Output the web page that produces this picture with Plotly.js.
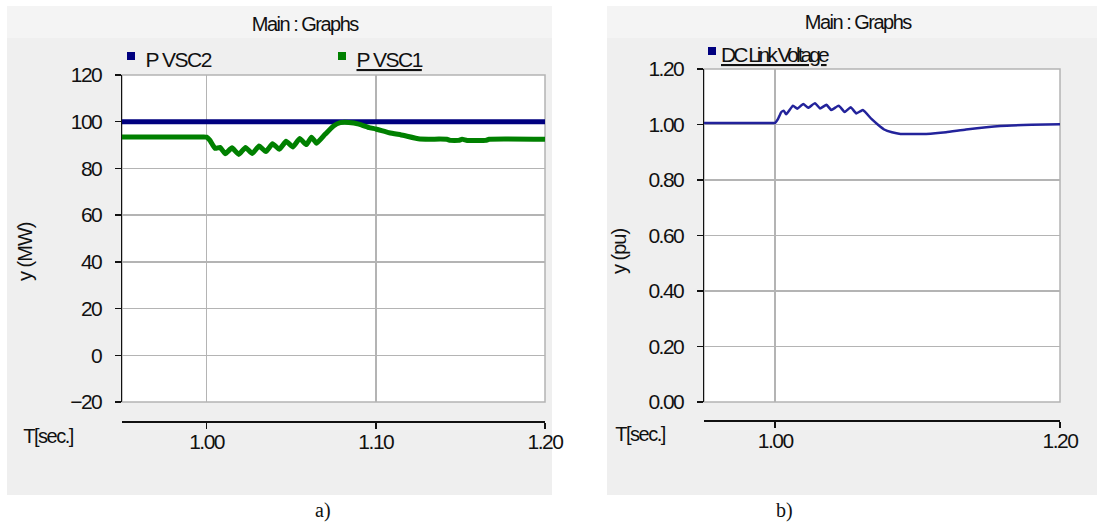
<!DOCTYPE html>
<html>
<head>
<meta charset="utf-8">
<script src="https://cdn.plot.ly/plotly-3.0.1.min.js"></script>
<style>
html,body{margin:0;padding:0;background:#fff;}
#chart text{letter-spacing:-1.5px;}
</style>
</head>
<body>
<div id="chart" style="width:1101px;height:524px;"></div>
<script>
// ---- Data ----
const tVSC2 = [0.95, 1.20];
const pVSC2 = [100, 100];

const tVSC1 = [0.95, 0.998, 1.000, 1.002, 1.005, 1.008, 1.011, 1.015, 1.019, 1.023, 1.027, 1.031, 1.035,
  1.039, 1.043, 1.047, 1.051, 1.055, 1.059, 1.062, 1.065, 1.070, 1.075, 1.079, 1.084, 1.090,
  1.096, 1.100, 1.108, 1.116, 1.126, 1.142, 1.144, 1.149, 1.151, 1.154, 1.165, 1.167, 1.20];
const pVSC1 = [93.5, 93.5, 93.4, 92.0, 88.6, 89.0, 86.3, 88.8, 86.0, 89.0, 86.4, 89.6, 87.2,
  90.6, 88.2, 91.6, 89.2, 92.8, 90.2, 93.4, 90.8, 94.6, 98.2, 99.6, 99.7, 99.0,
  97.5, 96.9, 95.3, 94.2, 92.6, 92.5, 92.0, 92.0, 92.5, 92.0, 92.0, 92.5, 92.5];

const tDC = [0.95, 0.998, 1.000, 1.002, 1.0042, 1.006, 1.0077, 1.0125, 1.0155, 1.0197, 1.0232, 1.0279,
  1.0315, 1.036, 1.0394, 1.0446, 1.0488, 1.053, 1.057, 1.0615, 1.0676, 1.072, 1.0765, 1.082,
  1.088, 1.106, 1.120, 1.134, 1.158, 1.180, 1.20];
const vDC = [1.005, 1.005, 1.006, 1.020, 1.044, 1.050, 1.037, 1.068, 1.057, 1.074, 1.060, 1.077,
  1.058, 1.071, 1.052, 1.068, 1.045, 1.062, 1.040, 1.052, 1.020, 1.000, 0.982, 0.972,
  0.966, 0.966, 0.972, 0.982, 0.995, 0.999, 1.001];

const leftYTicks = [-20, 0, 20, 40, 60, 80, 100, 120];
const leftXTicks = [1.00, 1.10, 1.20];
const leftXTickText = ['1.00', '1.10', '1.20'];
const rightYTicks = [0, 0.2, 0.4, 0.6, 0.8, 1.0, 1.2];
const rightYTickText = ['0.00', '0.20', '0.40', '0.60', '0.80', '1.00', '1.20'];
const rightXTicks = [1.00, 1.20];
const rightXTickText = ['1.00', '1.20'];

// ---- Layout helpers ----
const W = 1101, H = 524;
const px = x => x / W;
const py = y => 1 - y / H;
const FONT = 'Liberation Sans, Arial, sans-serif';
const SERIF = 'Liberation Serif, Times New Roman, serif';
const GRID = '#b4b4b4';
const NAVY = '#00007f';
const GREEN = '#008000';
const DCBLUE = '#23239b';

const traces = [
  {x: tVSC2, y: pVSC2, xaxis: 'x', yaxis: 'y', mode: 'lines', name: 'P VSC2',
   line: {color: NAVY, width: 5}},
  {x: tVSC1, y: pVSC1, xaxis: 'x', yaxis: 'y', mode: 'lines', name: 'P VSC1',
   line: {color: GREEN, width: 5, shape: 'spline', smoothing: 0.4}},
  {x: tDC, y: vDC, xaxis: 'x2', yaxis: 'y2', mode: 'lines', name: 'DC Link Voltage',
   line: {color: DCBLUE, width: 2.5, shape: 'spline', smoothing: 0.4}}
];

const tickFont = {family: FONT, size: 21, color: '#111'};

function xAxis(domain, ticks, text, pos) {
  return {domain: domain, range: [0.95, 1.2], anchor: 'free', position: pos,
    tickmode: 'array', tickvals: ticks, ticktext: text, tickfont: tickFont,
    showgrid: true, gridcolor: GRID, gridwidth: 1.5, zeroline: false,
    showline: true, linecolor: '#111', linewidth: 2,
    ticks: 'outside', ticklen: 6, tickwidth: 1.5, tickcolor: '#111',
    ticklabelstandoff: -5, fixedrange: true};
}
function yAxis(domain, range, ticks, text, anchor) {
  const a = {domain: domain, range: range, anchor: anchor,
    tickmode: 'array', tickvals: ticks, tickfont: tickFont,
    showgrid: true, gridcolor: GRID, gridwidth: 1.5, zeroline: false,
    showline: true, linecolor: '#111', linewidth: 1.5,
    ticks: 'outside', ticklen: 6, tickwidth: 1.5, tickcolor: '#111',
    ticklabelstandoff: 9, fixedrange: true};
  if (text) a.ticktext = text;
  return a;
}

const shapes = [
  // panel backgrounds
  {type: 'rect', xref: 'paper', yref: 'paper', x0: px(7), x1: px(552), y0: py(495), y1: py(6),
   fillcolor: '#efefef', line: {width: 0}, layer: 'below'},
  {type: 'rect', xref: 'paper', yref: 'paper', x0: px(607), x1: px(1097), y0: py(495), y1: py(6),
   fillcolor: '#efefef', line: {width: 0}, layer: 'below'},
  {type: 'rect', xref: 'paper', yref: 'paper', x0: px(7), x1: px(552), y0: py(38), y1: py(6),
   fillcolor: '#f4f4f4', line: {width: 0}, layer: 'below'},
  {type: 'rect', xref: 'paper', yref: 'paper', x0: px(607), x1: px(1097), y0: py(38), y1: py(6),
   fillcolor: '#f4f4f4', line: {width: 0}, layer: 'below'},
  // plot areas
  {type: 'rect', xref: 'x domain', yref: 'y domain', x0: 0, x1: 1, y0: 0, y1: 1,
   fillcolor: '#ffffff', line: {color: GRID, width: 1.5}, layer: 'below'},
  {type: 'rect', xref: 'x2 domain', yref: 'y2 domain', x0: 0, x1: 1, y0: 0, y1: 1,
   fillcolor: '#ffffff', line: {color: GRID, width: 1.5}, layer: 'below'},
  // legend squares
  {type: 'rect', xref: 'paper', yref: 'paper', x0: px(127), x1: px(135), y0: py(60), y1: py(52),
   fillcolor: NAVY, line: {width: 0}},
  {type: 'rect', xref: 'paper', yref: 'paper', x0: px(338), x1: px(346), y0: py(60), y1: py(52),
   fillcolor: GREEN, line: {width: 0}},
  {type: 'rect', xref: 'paper', yref: 'paper', x0: px(708), x1: px(716), y0: py(55), y1: py(47),
   fillcolor: NAVY, line: {width: 0}}
];

function ann(text, x, y, opts) {
  return Object.assign({text: text, xref: 'paper', yref: 'paper', x: px(x), y: py(y),
    showarrow: false, xanchor: 'center', yanchor: 'middle',
    font: {family: FONT, size: 20, color: '#111'}}, opts || {});
}

const annotations = [
  ann('Main : Graphs', 305, 24),
  ann('Main : Graphs', 858, 22),
  ann('P VSC2', 139, 59, {xanchor: 'left', font: {family: FONT, size: 21, color: '#111'}}),
  ann('<span style="text-decoration:underline">P VSC1</span>', 350, 59,
      {xanchor: 'left', font: {family: FONT, size: 21, color: '#111'}}),
  ann('<span style="text-decoration:underline;letter-spacing:-3px">DC Link Voltage</span>', 719, 54,
      {xanchor: 'left', font: {family: FONT, size: 21, color: '#111'}}),
  ann('<span style="letter-spacing:-1px">y (MW)</span>', 25, 252, {textangle: -90}),
  ann('<span style="letter-spacing:-1px">y (pu)</span>', 619, 252, {textangle: -90}),
  ann('T[sec.]', 48, 436),
  ann('T[sec.]', 640, 434),
  ann('<span style="letter-spacing:0px">a)</span>', 323, 510, {font: {family: SERIF, size: 20, color: '#111'}}),
  ann('<span style="letter-spacing:0px">b)</span>', 784, 510, {font: {family: SERIF, size: 20, color: '#111'}})
];

const layout = {
  width: W, height: H,
  margin: {l: 0, r: 0, t: 0, b: 0, pad: 0},
  paper_bgcolor: '#ffffff', plot_bgcolor: '#ffffff',
  showlegend: false,
  xaxis: xAxis([px(122), px(545)], leftXTicks, leftXTickText, py(422)),
  yaxis: yAxis([py(402), py(75)], [-20, 120], leftYTicks, null, 'x'),
  xaxis2: xAxis([px(704), px(1060)], rightXTicks, rightXTickText, py(421)),
  yaxis2: yAxis([py(402), py(69)], [0, 1.2], rightYTicks, rightYTickText, 'x2'),
  shapes: shapes,
  annotations: annotations
};

Plotly.newPlot('chart', traces, layout, {staticPlot: true, displayModeBar: false});
</script>
</body>
</html>
